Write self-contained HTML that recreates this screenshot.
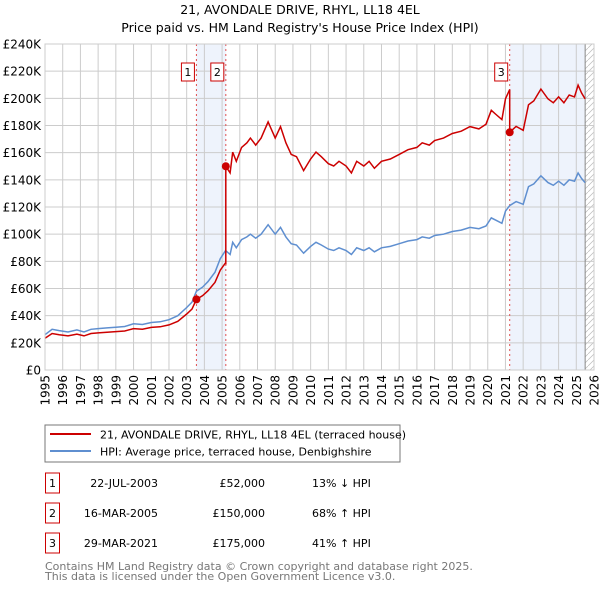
<!DOCTYPE html>
<html><head><meta charset="utf-8"><style>
body{margin:0;background:#fff;font-family:"Liberation Sans","DejaVu Sans",sans-serif;}
svg text{font-family:"DejaVu Sans","Liberation Sans",sans-serif;}
</style></head><body>
<svg id="c" width="600" height="590" xmlns="http://www.w3.org/2000/svg">
<defs><pattern id="h" width="6" height="6" patternUnits="userSpaceOnUse"><path d="M0,6 L6,0" stroke="#bbb" stroke-width="0.7"/></pattern></defs>
<text x="300" y="14" text-anchor="middle" font-size="12.5">21, AVONDALE DRIVE, RHYL, LL18 4EL</text>
<text x="300" y="32" text-anchor="middle" font-size="12.5">Price paid vs. HM Land Registry's House Price Index (HPI)</text>
<g id="plot"></g>
<rect x="45" y="425" width="355" height="37" fill="#fff" stroke="#777"/>
<line x1="50" y1="434" x2="91" y2="434" stroke="#cc0000" stroke-width="2"/>
<text x="100" y="438.5" font-size="11">21, AVONDALE DRIVE, RHYL, LL18 4EL (terraced house)</text>
<line x1="50" y1="451" x2="91" y2="451" stroke="#5f8fd0" stroke-width="2"/>
<text x="100" y="455.5" font-size="11">HPI: Average price, terraced house, Denbighshire</text>
<g id="table" font-size="11"></g>
<text x="45" y="570" font-size="11" fill="#777">Contains HM Land Registry data © Crown copyright and database right 2025.</text>
<text x="45" y="580" font-size="11" fill="#777">This data is licensed under the Open Government Licence v3.0.</text>
</svg>
<script>
const hpiYears=[1995,1995.4,1995.8,1996.3,1996.8,1997.2,1997.6,1998,1998.5,1999,1999.5,2000,2000.5,2001,2001.5,2002,2002.5,2003,2003.3,2003.55,2003.9,2004.2,2004.6,2004.9,2005.2,2005.45,2005.6,2005.8,2006.1,2006.4,2006.6,2006.9,2007.2,2007.6,2008,2008.3,2008.6,2008.9,2009.2,2009.6,2010,2010.3,2010.6,2011,2011.3,2011.6,2012,2012.3,2012.6,2013,2013.3,2013.6,2014,2014.5,2015,2015.5,2016,2016.3,2016.7,2017,2017.5,2018,2018.5,2019,2019.5,2019.9,2020.2,2020.5,2020.8,2021,2021.24,2021.6,2022,2022.3,2022.6,2023,2023.4,2023.7,2024,2024.3,2024.6,2024.9,2025.1,2025.3,2025.5];
const hpiValues=[26,30,29,28,29.5,28,30,30.5,31,31.5,32,34,33.5,35,35.5,37,40,46,50,58,61,65,72,82,88,85,94,90,96,98,100,97,100,107,100,105,98,93,92,86,91,94,92,89,88,90,88,85,90,88,90,87,90,91,93,95,96,98,97,99,100,102,103,105,104,106,112,110,108,117,121,124,122,135,137,143,138,136,139,136,140,139,145,141,138];
const saleLabels=["1","2","3"];
const saleDates=[2003.55,2005.21,2021.24];
const salePrices=[52,150,175];
const saleDateText=["22-JUL-2003","16-MAR-2005","29-MAR-2021"];
const salePriceText=["£52,000","£150,000","£175,000"];
const saleHpiText=["13% ↓ HPI","68% ↑ HPI","41% ↑ HPI"];
const yTicks=[0,20,40,60,80,100,120,140,160,180,200,220,240];
const xTicks=[1995,1996,1997,1998,1999,2000,2001,2002,2003,2004,2005,2006,2007,2008,2009,2010,2011,2012,2013,2014,2015,2016,2017,2018,2019,2020,2021,2022,2023,2024,2025,2026];

const NS="http://www.w3.org/2000/svg";
const X0=45,X1=594,Y0=370,Y1=44;
const xs=t=>X0+(t-1995)/(2026-1995)*(X1-X0);
const ys=v=>Y0-v/240*(Y0-Y1);
const plot=document.getElementById('plot');
function mk(tag,attrs,parent){const e=document.createElementNS(NS,tag);for(const k in attrs)e.setAttribute(k,attrs[k]);(parent||plot).appendChild(e);return e;}
function hpiAt(t){for(let i=1;i<hpiYears.length;i++){if(t<=hpiYears[i]){const a=hpiYears[i-1],b=hpiYears[i];return hpiValues[i-1]+(hpiValues[i]-hpiValues[i-1])*(t-a)/(b-a);}}return hpiValues[hpiValues.length-1];}

let e=mk('rect',{x:xs(saleDates[0]),y:Y1,width:xs(saleDates[1])-xs(saleDates[0]),height:Y0-Y1,fill:'#eef3fc'});


e=mk('rect',{x:xs(saleDates[2]),y:Y1,width:xs(2025.5)-xs(saleDates[2]),height:Y0-Y1,fill:'#eef3fc'});


e=mk('rect',{x:xs(2025.5),y:Y1,width:X1-xs(2025.5),height:Y0-Y1,fill:'url(#h)'});


yTicks.forEach(v=>{
 e=mk('line',{x1:X0,x2:X1,y1:ys(v),y2:ys(v),stroke:'#ccc','stroke-width':1});
 
 
 e=mk('text',{x:X0-4,y:ys(v)+4.5,'text-anchor':'end','font-size':'12'});e.textContent=v===0?'£0':'£'+v+'K';
 
 
});
xTicks.forEach(t=>{
 e=mk('line',{x1:xs(t),x2:xs(t),y1:Y1,y2:Y0,stroke:'#ccc','stroke-width':1});
 
 
 e=mk('text',{transform:`translate(${xs(t)+4.5},${Y0+5}) rotate(-90)`,'text-anchor':'end','font-size':'12'});e.textContent=t;
 
 
});
e=mk('line',{x1:xs(2025.5),x2:xs(2025.5),y1:Y1,y2:Y0,stroke:'#888','stroke-width':1});


saleDates.forEach((d,i)=>{
 e=mk('line',{x1:xs(d),x2:xs(d),y1:Y1,y2:Y0,stroke:'#e05050','stroke-width':1,'stroke-dasharray':'2,3'});
 
 
});
let pts=hpiYears.map((t,i)=>xs(t).toFixed(1)+','+ys(hpiValues[i]).toFixed(1)).join(' ');
e=mk('polyline',{points:pts,fill:'none',stroke:'#5f8fd0','stroke-width':1.5});


const ratios=salePrices.map((p,i)=>p/hpiAt(saleDates[i]));
let rp=[];
hpiYears.forEach((t,i)=>{
 let seg=0;for(let k=0;k<saleDates.length;k++)if(t>=saleDates[k])seg=k;
 saleDates.forEach((d,k)=>{ if(k>0&&t>=d&&(i===0||hpiYears[i-1]<d)){rp.push([d,hpiAt(d)*ratios[k-1]]);rp.push([d,salePrices[k]]);} });
 rp.push([t,hpiValues[i]*ratios[seg]]);
});
pts=rp.map(p=>xs(p[0]).toFixed(1)+','+ys(p[1]).toFixed(1)).join(' ');
e=mk('polyline',{points:pts,fill:'none',stroke:'#cc0000','stroke-width':1.5});


saleDates.forEach((d,i)=>{
 e=mk('circle',{cx:xs(d),cy:ys(salePrices[i]),r:4,fill:'#cc0000'});
 
 
 e=mk('rect',{x:xs(d)-15,y:63,width:13,height:18,fill:'#fff',stroke:'#cc0000'});
 
 
 e=mk('text',{x:xs(d)-8.5,y:76,'text-anchor':'middle','font-size':'11'});e.textContent=saleLabels[i];
 
 
});
e=mk('rect',{x:X0,y:Y1,width:X1-X0,height:Y0-Y1,fill:'none',stroke:'#ccc'});


const tb=document.getElementById('table');
saleLabels.forEach((l,i)=>{
 const y=483+i*30;
 e=mk('rect',{x:45.5,y:y-10,width:14,height:20,fill:'#fff',stroke:'#cc0000'},tb);
 
 
 e=mk('text',{x:52.5,y:y+4,'text-anchor':'middle'},tb);e.textContent=l;
 
 
 e=mk('text',{x:158,y:y+4,'text-anchor':'end'},tb);e.textContent=saleDateText[i];
 
 
 e=mk('text',{x:265,y:y+4,'text-anchor':'end'},tb);e.textContent=salePriceText[i];
 
 
 e=mk('text',{x:312,y:y+4},tb);e.textContent=saleHpiText[i];
 
 
});
</script>
</body></html>
